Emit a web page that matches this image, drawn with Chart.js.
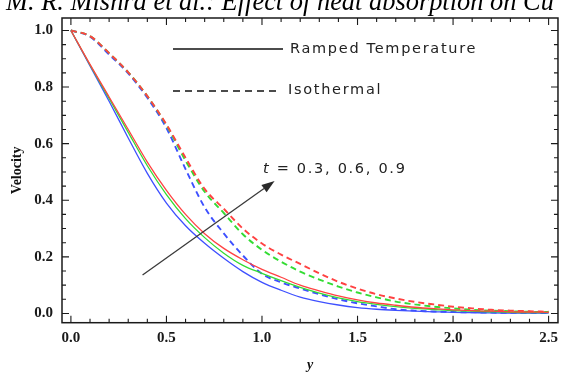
<!DOCTYPE html>
<html>
<head>
<meta charset="utf-8">
<script src="https://cdn.jsdelivr.net/npm/chart.js@4.4.1/dist/chart.umd.min.js"></script>
<style>
  html, body { margin: 0; padding: 0; background: #fff; }
  #wrap { width: 564px; height: 372px; position: relative; }
</style>
</head>
<body>
<div id="wrap"><canvas id="c" width="564" height="372"></canvas></div>
<script>
// Distance from the plate, y
const yPos = [0, 0.1, 0.2, 0.3, 0.4, 0.5, 0.6, 0.7, 0.8, 0.9, 1.0, 1.1, 1.2,
              1.3, 1.4, 1.5, 1.6, 1.7, 1.8, 1.9, 2.0, 2.1, 2.2, 2.3, 2.4, 2.5];

// Ramped temperature velocity profiles
const rampT03 = [1.0, 0.875, 0.75, 0.62, 0.495, 0.39, 0.31, 0.248, 0.195, 0.148, 0.11, 0.082, 0.058,
                 0.042, 0.030, 0.021, 0.015, 0.011, 0.008, 0.006, 0.004, 0.003, 0.002, 0.0015, 0.001, 0.001];
const rampT06 = [1.0, 0.878, 0.76, 0.64, 0.522, 0.42, 0.335, 0.268, 0.213, 0.17, 0.142, 0.116, 0.092,
                 0.072, 0.055, 0.042, 0.032, 0.024, 0.018, 0.014, 0.010, 0.008, 0.006, 0.004, 0.003, 0.003];
const rampT09 = [1.0, 0.88, 0.765, 0.65, 0.535, 0.435, 0.35, 0.282, 0.23, 0.19, 0.156, 0.128, 0.10,
                 0.08, 0.062, 0.048, 0.037, 0.029, 0.022, 0.017, 0.013, 0.010, 0.008, 0.006, 0.005, 0.004];

// Isothermal velocity profiles
const isoT03 = [1.0, 0.978, 0.915, 0.848, 0.762, 0.655, 0.51, 0.375, 0.283, 0.205, 0.14, 0.11, 0.088,
                0.068, 0.05, 0.036, 0.025, 0.015, 0.010, 0.007, 0.005, 0.004, 0.003, 0.002, 0.002, 0.001];
const isoT06 = [1.0, 0.98, 0.92, 0.852, 0.768, 0.665, 0.54, 0.43, 0.355, 0.28, 0.225, 0.183, 0.148,
                0.12, 0.095, 0.074, 0.057, 0.042, 0.032, 0.024, 0.018, 0.013, 0.010, 0.008, 0.006, 0.005];
const isoT09 = [1.0, 0.98, 0.92, 0.852, 0.768, 0.668, 0.55, 0.44, 0.37, 0.30, 0.247, 0.208, 0.175,
                0.142, 0.112, 0.088, 0.068, 0.053, 0.041, 0.032, 0.024, 0.018, 0.013, 0.010, 0.008, 0.006];

// Axis tick labels
const xTickValues = [0, 0.5, 1.0, 1.5, 2.0, 2.5];
const yTickValues = [0, 0.2, 0.4, 0.6, 0.8, 1.0];

// Arrow marking increasing time: tail and head in data units
const arrowTail = [0.375, 0.136];
const arrowHead = [1.066, 0.468];

const headerText = 'M. R. Mishra et al.: Effect of heat absorption on Cu';
const legendSolid = 'Ramped Temperature';
const legendDashed = 'Isothermal';
const timeNote = ['t', ' = 0.3, 0.6, 0.9'];

const RED = '#ff4242', GREEN = '#34dc34', BLUE = '#3e50ff';

function series(vals, color, dashed) {
  return {
    data: yPos.map((v, i) => ({ x: v, y: vals[i] })),
    borderColor: color,
    borderWidth: dashed ? 1.9 : 1.3,
    borderDash: dashed ? [6, 4] : [],
    pointRadius: 0,
    fill: false,
    cubicInterpolationMode: 'monotone'
  };
}

const serif = '"Liberation Serif", "Times New Roman", serif';
const sans = '"DejaVu Sans", Verdana, sans-serif';

const decorations = {
  id: 'decorations',
  afterDraw(chart) {
    const { ctx, chartArea: a, scales: { x, y } } = chart;
    ctx.save();

    // Frame
    ctx.strokeStyle = '#1a1a1a';
    ctx.lineWidth = 1.5;
    ctx.strokeRect(a.left, a.top, a.right - a.left, a.bottom - a.top);

    // Inward ticks on all four sides
    ctx.lineWidth = 1.1;
    ctx.beginPath();
    for (let i = 0; i <= 25; i++) {
      const px = x.getPixelForValue(i * 0.1);
      const len = i % 5 === 0 ? 7 : 4;
      ctx.moveTo(px, a.bottom); ctx.lineTo(px, a.bottom - len);
      ctx.moveTo(px, a.top); ctx.lineTo(px, a.top + len);
    }
    for (let i = 0; i <= 20; i++) {
      const py = y.getPixelForValue(i * 0.05);
      const len = i % 4 === 0 ? 7 : 4;
      ctx.moveTo(a.left, py); ctx.lineTo(a.left + len, py);
      ctx.moveTo(a.right, py); ctx.lineTo(a.right - len, py);
    }
    ctx.stroke();

    // Running header above the plot
    ctx.fillStyle = '#000';
    ctx.font = 'italic 20px ' + serif;
    const w = ctx.measureText(headerText).width;
    const size = 20 * 548 / w;
    ctx.font = 'italic ' + size.toFixed(2) + 'px ' + serif;
    ctx.textBaseline = 'alphabetic';
    ctx.textAlign = 'left';
    ctx.fillText(headerText, 6, 10);

    // Legend
    const lx0 = a.left + 111, lx1 = a.left + 221;
    ctx.strokeStyle = '#111';
    ctx.lineWidth = 1.5;
    ctx.beginPath();
    ctx.moveTo(lx0, a.top + 31); ctx.lineTo(lx1, a.top + 31);
    ctx.stroke();
    ctx.setLineDash([7, 5]);
    ctx.beginPath();
    ctx.moveTo(lx0, a.top + 73); ctx.lineTo(lx1 - 4, a.top + 73);
    ctx.stroke();
    ctx.setLineDash([]);

    ctx.font = '14.5px ' + sans;
    ctx.letterSpacing = '1.7px';
    ctx.fillStyle = '#222';
    ctx.textBaseline = 'middle';
    ctx.fillText(legendSolid, a.left + 228, a.top + 31);
    ctx.fillText(legendDashed, a.left + 226, a.top + 72);

    // Time annotation
    const tx = a.left + 201, ty = a.top + 151;
    ctx.font = 'italic 14.5px ' + sans;
    ctx.fillText(timeNote[0], tx, ty);
    const tw = ctx.measureText(timeNote[0]).width;
    ctx.font = '14.5px ' + sans;
    ctx.fillText(timeNote[1], tx + tw, ty);
    ctx.letterSpacing = '0px';

    // Arrow
    const x0 = x.getPixelForValue(arrowTail[0]), y0 = y.getPixelForValue(arrowTail[1]);
    const x1 = x.getPixelForValue(arrowHead[0]), y1 = y.getPixelForValue(arrowHead[1]);
    const ang = Math.atan2(y1 - y0, x1 - x0);
    const hl = 13, hw = 4.5;
    const bx = x1 - hl * Math.cos(ang), by = y1 - hl * Math.sin(ang);
    ctx.strokeStyle = '#3a3a3a';
    ctx.fillStyle = '#2a2a2a';
    ctx.lineWidth = 1.3;
    ctx.beginPath();
    ctx.moveTo(x0, y0); ctx.lineTo(bx, by);
    ctx.stroke();
    ctx.beginPath();
    ctx.moveTo(x1, y1);
    ctx.lineTo(bx + hw * Math.sin(ang), by - hw * Math.cos(ang));
    ctx.lineTo(bx - hw * Math.sin(ang), by + hw * Math.cos(ang));
    ctx.closePath();
    ctx.fill();

    ctx.restore();
  }
};

new Chart(document.getElementById('c'), {
  type: 'line',
  data: {
    datasets: [
      series(rampT09, RED, false),
      series(rampT06, GREEN, false),
      series(rampT03, BLUE, false),
      series(isoT09, RED, true),
      series(isoT06, GREEN, true),
      series(isoT03, BLUE, true)
    ]
  },
  options: {
    responsive: false,
    animation: false,
    devicePixelRatio: 1,
    layout: { padding: { top: 12, right: 1, left: 0, bottom: 0 } },
    plugins: { legend: { display: false }, tooltip: { enabled: false }, title: { display: false } },
    scales: {
      x: {
        type: 'linear',
        min: -0.0466,
        max: 2.549,
        grid: { display: false, drawTicks: false },
        border: { display: false },
        afterBuildTicks: s => { s.ticks = xTickValues.map(v => ({ value: v })); },
        afterFit: s => { s.height = 49.3; },
        ticks: {
          padding: 6,
          maxRotation: 0,
          autoSkip: false,
          color: '#1a1a1a',
          font: { family: serif, size: 15, weight: 'bold' },
          callback: v => Number(v).toFixed(1)
        },
        title: {
          display: true,
          text: 'y',
          color: '#111',
          padding: 0,
          font: { family: serif, size: 14, weight: 'bold', style: 'italic', lineHeight: 1 }
        }
      },
      y: {
        type: 'linear',
        min: -0.0326,
        max: 1.044,
        grid: { display: false, drawTicks: false },
        border: { display: false },
        afterBuildTicks: s => { s.ticks = yTickValues.map(v => ({ value: v })); },
        afterFit: s => { s.width = 62; },
        ticks: {
          padding: 9,
          autoSkip: false,
          color: '#1a1a1a',
          font: { family: serif, size: 15, weight: 'bold' },
          callback: v => Number(v).toFixed(1)
        },
        title: {
          display: true,
          text: 'Velocity',
          color: '#111',
          padding: { top: 10, bottom: 0 },
          font: { family: serif, size: 14, weight: 'bold', lineHeight: 1 }
        }
      }
    }
  },
  plugins: [decorations]
});
</script>
</body>
</html>
